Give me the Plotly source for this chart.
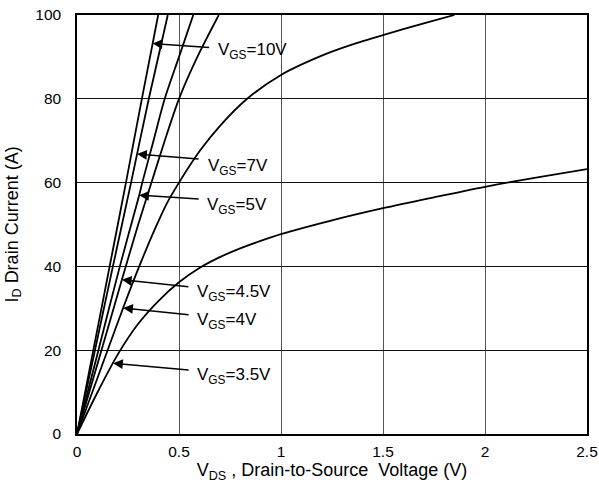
import numpy as np
import plotly.graph_objects as go

# ---- data ----
vgs_labels = ["10V", "7V", "5V", "4.5V", "4V", "3.5V"]

vds_10 = [0, 0.08, 0.16, 0.24, 0.318, 0.398]
id_10 = [0, 20, 40, 60, 80, 100]

vds_7 = [0, 0.088, 0.176, 0.265, 0.352, 0.445]
id_7 = [0, 20, 40, 60, 80, 100]

vds_5 = [0, 0.105, 0.21, 0.305, 0.32, 0.375, 0.43, 0.50, 0.57]
id_5 = [0, 20, 40, 57, 60, 70, 80, 90, 100]

vds_45 = [0, 0.12, 0.22, 0.30, 0.365, 0.43, 0.50, 0.59, 0.695]
id_45 = [0, 20, 36.8, 50, 60, 70, 80, 90, 100]

vds_4 = [0, 0.15, 0.227, 0.305, 0.38, 0.44, 0.50, 0.604, 0.70, 0.834, 1.0, 1.2, 1.34, 1.5, 1.7, 1.85]
id_4 = [0, 20, 30.2, 40, 48.7, 55, 60, 67.7, 73.5, 80, 85.7, 90.3, 92.8, 95.2, 98, 100]

vds_35 = [0, 0.1, 0.2, 0.3, 0.4, 0.5, 0.6, 0.7, 0.8, 0.9, 1.0, 1.25, 1.5, 1.75, 2.0, 2.25, 2.5]
id_35 = [0, 9.9, 19.0, 26.3, 31.8, 36.2, 39.6, 42.2, 44.3, 46.1, 47.7, 51, 53.9, 56.5, 59.0, 61.2, 63.2]

# current at which each label's arrow touches its curve
arrow_id = [93.2, 66.8, 57.0, 36.8, 30.1, 16.9]

x_ticks = [0, 0.5, 1, 1.5, 2, 2.5]
x_tick_text = ["0", "0.5", "1", "1.5", "2", "2.5"]
y_ticks = [0, 20, 40, 60, 80, 100]

x_title = "V<sub>DS</sub> , Drain-to-Source\u00a0\u00a0Voltage (V)"
y_title = "I<sub>D</sub> Drain Current (A)"

curves = [(vds_10, id_10), (vds_7, id_7), (vds_5, id_5),
          (vds_45, id_45), (vds_4, id_4), (vds_35, id_35)]

# ---- styles (pixel offsets of arrow tails and label texts from the arrow tips) ----
arrow_tail = [(58, 4), (63, 5), (61, 4), (68, 7), (67, 7), (77, 7)]
label_shift = [(63, 8), (69, 13), (66, 11), (73, 13), (72, 13), (82, 13)]
FONT = "Liberation Sans, Arial, sans-serif"

fig = go.Figure()
for (vx, iy), lab in zip(curves, vgs_labels):
    fig.add_trace(go.Scatter(x=vx, y=iy, mode="lines", name="VGS=" + lab,
                             line=dict(color="black", width=1.8, shape="spline", smoothing=0.8),
                             showlegend=False, hoverinfo="skip"))

for (vx, iy), lab, ia, (ax, ay), (tx, ty) in zip(curves, vgs_labels, arrow_id,
                                                 arrow_tail, label_shift):
    xa = float(np.interp(ia, iy, vx))
    fig.add_annotation(x=xa, y=ia, xref="x", yref="y", text="",
                       showarrow=True, ax=ax, ay=ay,
                       arrowhead=2, arrowsize=1.3, arrowwidth=1.5, arrowcolor="black")
    fig.add_annotation(x=xa, y=ia, xref="x", yref="y",
                       text="V<sub>GS</sub>=" + lab, showarrow=False,
                       xanchor="left", yanchor="middle", xshift=tx, yshift=-ty,
                       font=dict(family=FONT, size=17, color="black"))

# y-axis title as rotated text, placed to the left of the tick labels
fig.add_annotation(x=0, y=0.5, xref="paper", yref="paper", text=y_title,
                   showarrow=False, textangle=-90, xanchor="center", yanchor="middle",
                   xshift=-64, font=dict(family=FONT, size=18, color="black"))

fig.update_xaxes(range=[0, 2.5], tickvals=x_ticks, ticktext=x_tick_text,
                 showgrid=True, gridcolor="#555555", gridwidth=1.2,
                 showline=True, linecolor="black", linewidth=1.5, mirror=True,
                 zeroline=False, ticks="outside", ticklen=3, tickcolor="rgba(0,0,0,0)",
                 tickfont=dict(family=FONT, size=15.5, color="black"),
                 ticklabeloverflow="allow", automargin=False,
                 title=dict(text=x_title,
                            font=dict(family=FONT, size=18, color="black"), standoff=4))
fig.update_yaxes(range=[0, 100], tickvals=y_ticks,
                 showgrid=True, gridcolor="#111111", gridwidth=1.2,
                 showline=True, linecolor="black", linewidth=1.5, mirror=True,
                 zeroline=False, ticks="outside", ticklen=11, tickcolor="rgba(0,0,0,0)",
                 tickfont=dict(family=FONT, size=15.5, color="black"),
                 ticklabeloverflow="allow", automargin=False)

fig.update_layout(width=599, height=493,
                  margin=dict(l=77, r=12, t=15, b=59),
                  plot_bgcolor="white", paper_bgcolor="white",
                  font=dict(family=FONT, color="black"))

# remove the browser's default 8px body margin so the figure fills the window;
# hide the interactive toolbar
fig.write_html("out.html", config={"displayModeBar": False},
               post_script="document.body.style.margin='0px';")
